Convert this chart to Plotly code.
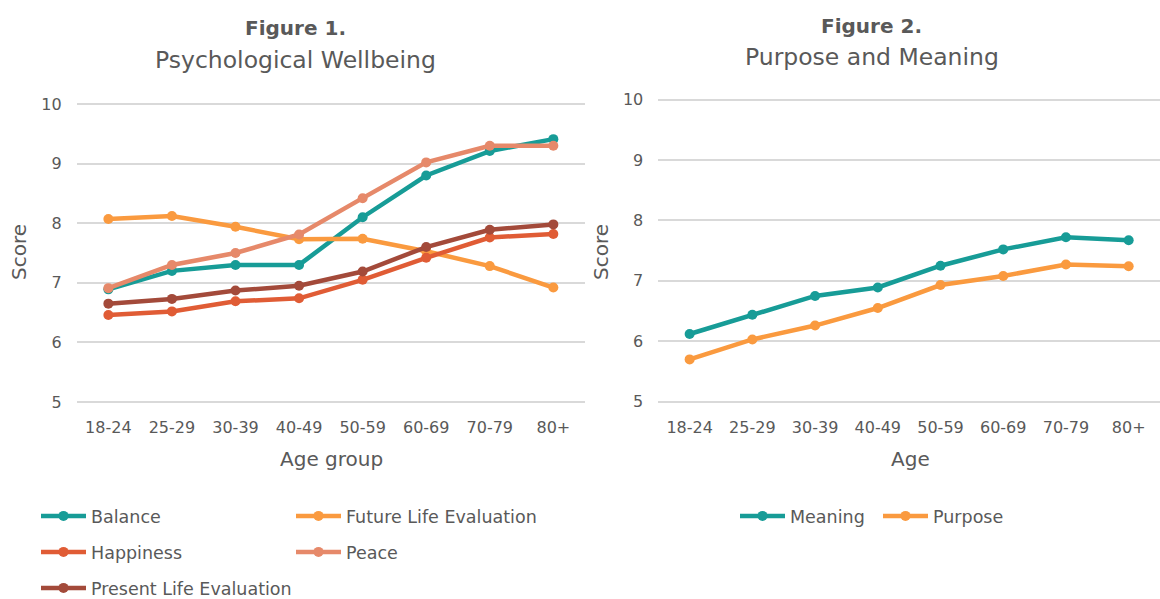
import plotly.graph_objects as go

# Age groups shared by both panels
age_groups = ["18-24", "25-29", "30-39", "40-49", "50-59", "60-69", "70-79", "80+"]

# Figure 1 - psychological wellbeing scores
balance = [6.89, 7.20, 7.30, 7.30, 8.10, 8.80, 9.21, 9.41]
future_life = [8.07, 8.12, 7.94, 7.73, 7.74, 7.53, 7.28, 6.92]
happiness = [6.46, 6.52, 6.69, 6.74, 7.05, 7.42, 7.76, 7.82]
peace = [6.91, 7.30, 7.50, 7.81, 8.42, 9.02, 9.30, 9.30]
present_life = [6.65, 6.73, 6.87, 6.95, 7.19, 7.60, 7.89, 7.98]

# Figure 2 - purpose and meaning scores
meaning = [6.12, 6.44, 6.75, 6.89, 7.25, 7.52, 7.72, 7.67]
purpose = [5.70, 6.03, 6.26, 6.55, 6.93, 7.08, 7.27, 7.24]

y_ticks = [5, 6, 7, 8, 9, 10]

TEAL = "#179c97"
ORANGE = "#fa9a3f"
RED = "#e05c35"
SALMON = "#e6896a"
BROWN = "#a34a3a"
TEXT = "#595959"
GRID = "#d9d9d9"
FONT = "DejaVu Sans"

W, H = 1160, 599
PAD = 3  # extra px around the value range so the 5 and 10 gridlines are kept


def px_x(x):
    return x / W


def px_y(y):
    return 1 - y / H


def padded_range(top_px, bottom_px, lo=5, hi=10):
    per_px = (hi - lo) / (bottom_px - top_px)
    return [lo - PAD * per_px, hi + PAD * per_px]


fig = go.Figure()

left_series = [
    ("Balance", balance, TEAL, "legend"),
    ("Future Life Evaluation", future_life, ORANGE, "legend2"),
    ("Happiness", happiness, RED, "legend3"),
    ("Peace", peace, SALMON, "legend4"),
    ("Present Life Evaluation", present_life, BROWN, "legend5"),
]
right_series = [
    ("Meaning", meaning, TEAL, "legend6"),
    ("Purpose", purpose, ORANGE, "legend7"),
]

for name, vals, color, leg in left_series:
    fig.add_trace(go.Scatter(
        x=age_groups, y=vals, name=name, mode="lines+markers",
        line=dict(color=color, width=4.5), marker=dict(color=color, size=10),
        xaxis="x", yaxis="y", legend=leg,
    ))

for name, vals, color, leg in right_series:
    fig.add_trace(go.Scatter(
        x=age_groups, y=vals, name=name, mode="lines+markers",
        line=dict(color=color, width=4.5), marker=dict(color=color, size=10),
        xaxis="x2", yaxis="y2", legend=leg,
    ))

xcommon = dict(type="category", showgrid=False, zeroline=False, showline=False,
               ticks="", tickfont=dict(family=FONT, size=16, color=TEXT),
               ticklabelstandoff=14 - PAD, fixedrange=True)
ycommon = dict(tickvals=y_ticks, showgrid=True, gridcolor=GRID,
               gridwidth=2, zeroline=False, showline=False, ticks="",
               tickfont=dict(family=FONT, size=16, color=TEXT),
               ticklabelstandoff=14, fixedrange=True)

legend_font = dict(family=FONT, size=17.5, color=TEXT)


def legend_at(text_x, y):
    return dict(x=px_x(text_x - 55), y=px_y(y), xanchor="left", yanchor="middle",
                orientation="h", bgcolor="rgba(0,0,0,0)", borderwidth=0,
                itemwidth=45, font=legend_font,
                itemclick=False, itemdoubleclick=False)


layout_legends = {
    "legend": legend_at(91, 516),
    "legend2": legend_at(346, 516),
    "legend3": legend_at(91, 552),
    "legend4": legend_at(346, 552),
    "legend5": legend_at(91, 588),
    "legend6": legend_at(790, 516),
    "legend7": legend_at(933, 516),
}

L_TOP, L_BOT = 104, 402
R_TOP, R_BOT = 99.5, 401.7

fig.update_layout(
    width=W, height=H,
    margin=dict(l=0, r=0, t=0, b=0, autoexpand=False),
    paper_bgcolor="white", plot_bgcolor="white",
    font=dict(family=FONT, color=TEXT),
    showlegend=True,
    xaxis=dict(domain=[px_x(76.7), px_x(585)], anchor="y", **xcommon),
    yaxis=dict(domain=[px_y(L_BOT + PAD), px_y(L_TOP - PAD)], anchor="x",
               range=padded_range(L_TOP, L_BOT), **ycommon),
    xaxis2=dict(domain=[px_x(658.3), 1.0], anchor="y2", **xcommon),
    yaxis2=dict(domain=[px_y(R_BOT + PAD), px_y(R_TOP - PAD)], anchor="x2",
                range=padded_range(R_TOP, R_BOT), **ycommon),
    **layout_legends,
)

annotations = [
    # panel titles
    dict(text="<b>Figure 1.</b>", x=px_x(295), y=px_y(28), size=20),
    dict(text="Psychological Wellbeing", x=px_x(295), y=px_y(60), size=23.5),
    dict(text="<b>Figure 2.</b>", x=px_x(872), y=px_y(26), size=20),
    dict(text="Purpose and Meaning", x=px_x(872), y=px_y(57), size=23.5),
    # axis titles
    dict(text="Age group", x=px_x(331), y=px_y(459), size=20),
    dict(text="Age", x=px_x(910), y=px_y(459), size=20),
    dict(text="Score", x=px_x(19), y=px_y(252), size=20, textangle=-90),
    dict(text="Score", x=px_x(601), y=px_y(252), size=20, textangle=-90),
]
for a in annotations:
    fig.add_annotation(
        text=a["text"], x=a["x"], y=a["y"], xref="paper", yref="paper",
        xanchor="center", yanchor="middle", showarrow=False,
        textangle=a.get("textangle", 0),
        font=dict(family=FONT, size=a["size"], color=TEXT),
    )

fig.write_html("out.html", config={"displayModeBar": False})
